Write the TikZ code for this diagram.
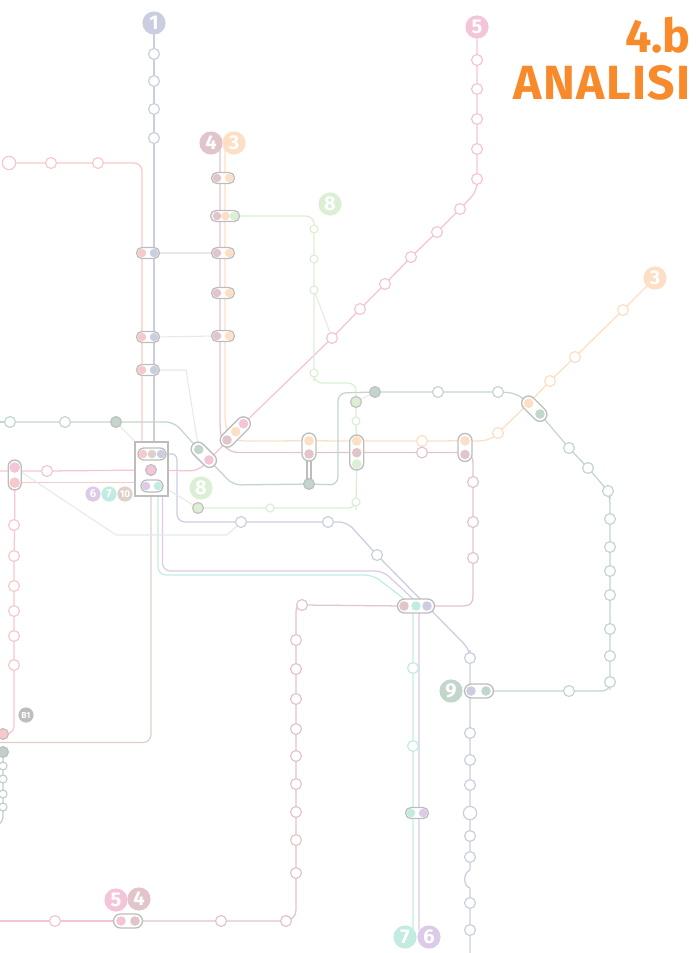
\documentclass[tikz,border=0pt]{standalone}
\usepackage{fontspec}
\setmainfont{Fira Sans}
\usetikzlibrary{shapes.misc}
\pgfdeclarelayer{lines}
\pgfsetlayers{lines,main}
\definecolor{lone}{HTML}{CBCEE0}
\definecolor{lred}{HTML}{F8C9CC}
\definecolor{lthree}{HTML}{FCDFC4}
\definecolor{lfour}{HTML}{E2C5CA}
\definecolor{lfive}{HTML}{F4C5D8}
\definecolor{lsix}{HTML}{DCCBE6}
\definecolor{lseven}{HTML}{C2ECE2}
\definecolor{leight}{HTML}{DCEFD4}
\definecolor{lnine}{HTML}{C3D6CC}
\definecolor{lten}{HTML}{DDD1C9}
\definecolor{ringgray}{HTML}{BDBDBD}
\definecolor{linkgray}{HTML}{E8E8E8}
\definecolor{titleorange}{HTML}{F98A2C}
\tikzset{
  stn/.style={circle,draw=#1,fill=white,line width=.9pt,minimum size=8.2pt,inner sep=0},
  smallstn/.style={stn=#1,minimum size=6pt},
  bigstn/.style={stn=#1,minimum size=10pt},
  dot/.style={circle,fill=#1,minimum size=7.2pt,inner sep=0},
  ringdot/.style={circle,fill=#1,draw=ringgray,line width=.8pt,minimum size=8.2pt,inner sep=0},
  pill/.style n args={2}{rounded rectangle,draw=ringgray,fill=white,line width=1pt,minimum width=#1*0.75pt,minimum height=#2*0.75pt,inner sep=0},
  badge/.style={circle,fill=#1,text=white,font=\bfseries\fontsize{15}{15}\selectfont,minimum size=17.4pt,inner sep=0},
  smallbadge/.style={badge=#1,font=\bfseries\fontsize{8.5}{8.5}\selectfont,minimum size=11.4pt},
  track/.style={draw=#1,line width=.95pt,rounded corners=6pt},
  link/.style={draw=linkgray,line width=.8pt},
}
\begin{document}
\begin{tikzpicture}[x=0.75pt,y=0.75pt,yscale=-1,xscale=1]
  \useasboundingbox (0,0) rectangle (696,953);

  % title
  \node[anchor=base east,text=titleorange,font=\bfseries\fontsize{35}{35}\selectfont,inner sep=0] (titleA) at (691,52) {4.b};
  \node[anchor=base east,text=titleorange,font=\bfseries\fontsize{36}{36}\selectfont\addfontfeatures{LetterSpace=3},inner sep=0] (titleB) at (691,99) {ANALISI};

  % badges
  \node[badge=lone] (badgeOne) at (154,23) {1};
  \node[badge=lfive] (badgeFive) at (477,27) {5};
  \node[badge=lfour] (badgeFour) at (211,143) {4};
  \node[badge=lthree] (badgeThree) at (234,143) {3};
  \node[badge=leight] (badgeEight) at (330,204) {8};
  \node[badge=lthree] (badgeThreeB) at (655,278) {3};
  \node[badge=leight] (badgeEightB) at (201,488) {8};
  \node[badge=lnine] (badgeNine) at (451,691) {9};
  \node[badge=lfive] (badgeFiveB) at (116,900) {5};
  \node[badge=lfour] (badgeFourB) at (139,899) {4};
  \node[badge=lseven] (badgeSeven) at (405,937) {7};
  \node[badge=lsix] (badgeSix) at (429,937) {6};
  \node[smallbadge=lsix] (smallSix) at (93,494) {6};
  \node[smallbadge=lseven] (smallSeven) at (109,494) {7};
  \node[smallbadge=lten,font=\bfseries\fontsize{7.5}{7.5}\selectfont] (smallTen) at (125,494) {10};
  \node[smallbadge=ringgray,font=\bfseries\fontsize{6.5}{6.5}\selectfont] (smallBone) at (26,715) {B1};

  % plain stations
  \foreach \n/\y in {a/54,b/81,c/109,d/138}
    \node[stn=lone] (one\n) at (154,\y) {};
  \node[bigstn=lred] (redA) at (9,163) {};
  \foreach \n/\x in {B/51,C/98}
    \node[stn=lred] (red\n) at (\x,163) {};
  \foreach \n/\y in {a/525,b/556,c/586,d/611,e/636,f/665}
    \node[stn=lred] (redv\n) at (14,\y) {};
  \foreach \n/\x/\y in {a/477/60,b/477/89,c/477/119,d/477/149,e/477/179,f/460/209,g/437/232,h/411/257,i/385/284,j/360/309,k/332/338,l/47/471}
    \node[stn=lfive] (five\n) at (\x,\y) {};
  \node[stn=lfive] (fivem) at (55,921) {};
  \foreach \n/\x/\y in {a/550/381,b/575/357,c/623/310,d/498/433,e/422/441}
    \node[stn=lthree] (three\n) at (\x,\y) {};
  \foreach \n/\x/\y in {a/422/452.5,b/473/482,c/473/522,d/473/558,e/302/605,f/296/640,g/296/669,h/296/699,i/296/729,j/296/756,k/296/784,l/296/812,m/296/840,n/296/873,o/286/921,p/221/921}
    \node[stn=lfour] (four\n) at (\x,\y) {};
  \foreach \n/\x/\y in {a/314/229,b/314/259,c/314/290,d/314/373,e/356/421,f/356/502,g/270/508}
    \node[smallstn=leight] (eight\n) at (\x,\y) {};
  \foreach \n/\x/\y in {a/10/422,b/65/422,c/438/392,f/569/691,g/569/448,h/588/468,i/608/491,j/610/519,k/610/547,l/610/571,m/610/595,n/610/629,o/610/656,p/610/682,q/498/392}
    \node[stn=lnine] (nine\n) at (\x,\y) {};
  \foreach \n/\y in {a/658,b/733,c/760,d/785,f/836,g/857,h/903,i/930}
    \node[stn=lone] (lav\n) at (470,\y) {};
  \node[bigstn=lone] (lave) at (470,813) {};
  \foreach \n/\x/\y in {j/241/522,k/328/522,l/377/555}
    \node[stn=lone] (lav\n) at (\x,\y) {};
  \foreach \n/\y in {a/668,b/746}
    \node[stn=lseven] (seven\n) at (413,\y) {};
  \foreach \n/\y in {a/766,b/779,c/794,d/807}
    \node[smallstn=lnine!70!lightgray] (bone\n) at (3,\y) {};

  % interchanges
  \node[draw=ringgray,fill=white,line width=1.5pt,minimum width=25pt,minimum height=41pt,inner sep=0] (hub) at (151.7,469) {};
  \node[pill={28}{12}] (hubTop) at (152,454) {};
  \node[pill={22}{12}] (hubLow) at (152,486) {};
  \foreach \n/\x/\y/\c in {a/143/454/lred,b/152/454/lten,c/161/454/lone,d/146/486/lsix,e/158/486/lseven}
    \node[dot=\c,minimum size=6.4pt] (hub\n) at (\x,\y) {};
  \node[ringdot=lfive] (hubMid) at (151,470) {};

  \foreach \n/\y in {a/253,b/337,c/370} {
    \node[pill={23}{11}] (rb\n) at (148,\y) {};
    \node[dot=lred,minimum size=6.4pt] (rb\n R) at (142,\y) {};
    \node[dot=lone,minimum size=6.4pt] (rb\n L) at (154,\y) {};
  }
  \foreach \n/\y in {a/178,c/253,d/293,e/336} {
    \node[pill={23}{11}] (ft\n) at (223,\y) {};
    \node[dot=lfour,minimum size=6.4pt] (ft\n F) at (217,\y) {};
    \node[dot=lthree,minimum size=6.4pt] (ft\n T) at (229,\y) {};
  }
  \node[pill={29}{11}] (ftb) at (225,216) {};
  \node[dot=lfour,minimum size=6.4pt] (ftbF) at (217,216) {};
  \node[dot=lthree,minimum size=6.4pt] (ftbT) at (225.5,216) {};
  \node[dot=leight,minimum size=6.4pt] (ftbE) at (234,216) {};

  \node[pill={30}{13},rotate=90] (lp) at (14.7,475) {};
  \node[dot=lfive,minimum size=8pt] (lpP) at (14.7,467.5) {};
  \node[dot=lred,minimum size=8pt] (lpR) at (14.7,482.7) {};

  \node[pill={37}{14},rotate=45] (dpa) at (235.3,432) {};
  \node[dot=lfour] (dpaF) at (227,440) {};
  \node[dot=lthree] (dpaT) at (235.7,431.7) {};
  \node[dot=lfive] (dpaP) at (243.5,423.7) {};
  \node[pill={30}{14},rotate=-45] (dpb) at (203.8,454.8) {};
  \node[dot=lnine] (dpbN) at (198.7,449.5) {};
  \node[dot=lfive] (dpbP) at (209,460) {};
  \node[pill={30}{14},rotate=-45] (dpc) at (534.3,408.7) {};
  \node[dot=lthree] (dpcT) at (528.7,403.3) {};
  \node[dot=lnine] (dpcN) at (540,414) {};

  \node[pill={28}{14},rotate=90] (vpa) at (309,447) {};
  \node[dot=lthree] (vpaT) at (309,440.8) {};
  \node[dot=lfour] (vpaF) at (309,454) {};
  \node[pill={35}{14},rotate=90] (vpb) at (356.7,452.5) {};
  \node[dot=lthree] (vpbT) at (356.7,441) {};
  \node[dot=lfour] (vpbF) at (356.7,452.7) {};
  \node[dot=leight] (vpbE) at (356.7,464) {};
  \node[pill={28}{14},rotate=90] (vpc) at (465,447.5) {};
  \node[dot=lthree] (vpcT) at (465,440.8) {};
  \node[dot=lfour] (vpcF) at (465,454.5) {};

  \node[pill={37}{14}] (tri) at (416,606) {};
  \node[dot=lfour] (triF) at (404,606) {};
  \node[dot=lseven] (triS) at (416,606) {};
  \node[dot=lone] (triO) at (427,606) {};
  \node[pill={29}{14}] (nineP) at (479,691) {};
  \node[dot=lone] (nineO) at (471,691) {};
  \node[dot=lnine] (nineN) at (486,691) {};
  \node[pill={23}{11}] (sevenP) at (417,813) {};
  \node[dot=lseven,minimum size=6.4pt] (sevenS) at (411,813) {};
  \node[dot=lsix,minimum size=6.4pt] (sevenL) at (423,813) {};
  \node[pill={29}{14}] (botP) at (128,921) {};
  \node[dot=lfive] (botF) at (121,921) {};
  \node[dot=lfour] (botO) at (135,921) {};

  % filled stations
  \node[ringdot=lnine] (ringA) at (116,422) {};
  \node[ringdot=lnine] (ringB) at (309,484) {};
  \node[ringdot=lnine] (ringC) at (375,392) {};
  \node[ringdot=leight] (ringD) at (356,402) {};
  \node[ringdot=leight] (ringE) at (198,508) {};
  \node[ringdot=lred] (ringF) at (3,734) {};
  \node[ringdot=lnine!70!lightgray] (ringG) at (3,752) {};

  \begin{pgfonlayer}{lines}
    % line 1
    \path[track=lone] (badgeOne.center) -- (onea.center) -- (oneb.center) -- (onec.center) -- (oned.center) -- (rbaL.center) -- (rbbL.center) -- (rbcL.center) -- (rbcL.center |- hub.north);
    \path[track=lone] (hub.east |- hubTop) -- (177,452) -- (177,522) -- (lavj.center) -- (lavk.center) -- (347,522) -- (lavl.center) -- (triO.center) -- (470,650) -- (lava.center) -- (nineO.center -| lava) -- (lavb.center) -- (lavc.center) -- (lavd.center) -- (lave.center) -- (lavf.center) -- (lavg.center) -- (470,870);
    \draw[draw=lone,line width=.95pt] (470,870) .. controls (463,873) and (463,886) .. (470,888) -- (lavh.center) -- (lavi.center) -- (470,953);
    % red line
    \path[track=lred] (redA.center) -- (redB.center) -- (redC.center) -| (rbaR.center |- hub.north);
    \path[track=lred] (lpR.center) -- (lpR.center -| hub.west);
    \path[track=lred] (lpR.center) -- (redva.center -| lpR) -- (redvb.center) -- (redvc.center) -- (redvd.center) -- (redve.center) -- (redvf.center) -- (14,734) -- (ringF.center);
    % line 5
    \path[track=lfive] (badgeFive.center) -- (fivea.center) -- (fiveb.center) -- (fivec.center) -- (fived.center) -- (fivee.center) -- (477,191) -- (fivef.center) -- (fiveg.center) -- (fiveh.center) -- (fivei.center) -- (fivej.center) -- (fivek.center) -- (dpaP.center) -- (dpbP.center) -- (198,471) -- (hubMid.center) -- (fivel.center) -- (0,471);
    \path[track=lfive] (fivem.center) -- (0,921);
    \path[track=lfive] (fivem.center) -- (botF.center);
    % line 3
    \draw[draw=lthree,line width=.95pt] (225,143) -- (225,413) .. controls (225,434) and (230,441) .. (246,441) -- (vpaT.center) -- (vpbT.center) -- (threee.center) -- (vpcT.center) -- (475,441) .. controls (485,441) and (491,440) .. (threed.center) -- (dpcT.center) -- (threea.center) -- (threeb.center) -- (threec.center) -- (badgeThreeB.center);
    % line 4
    \draw[draw=lfour,line width=.95pt] (220,143) -- (220,420) .. controls (220,444) and (225,452.5) .. (240,452.5) -- (foura.center) -- (465,452.5) .. controls (470,452.5) and (473,456) .. (473,464) -- (fourb.center) -- (fourc.center) -- (fourd.center) -- (473,596) .. controls (473,603) and (470,606) .. (463,606) -- (triF.center) -- (foure.center) -- (302,605) .. controls (298,605) and (296,607) .. (296,612) -- (fourf.center) -- (fourg.center) -- (fourh.center) -- (fouri.center) -- (fourj.center) -- (fourk.center) -- (fourl.center) -- (fourm.center) -- (fourn.center) -- (296,910) .. controls (296,916) and (292,920) .. (fouro.center) -- (fourp.center) -- (botO.center);
    % line 8
    \path[track=leight] (ftbE.center) -- (314,216) -- (eighta.center) -- (eightb.center) -- (eightc.center) -- (eightd.center) -- (314,383) -- (356,383) -- (ringD.center) -- (eighte.center) -- (vpbE.center) -- (eightf.center) -- (356,508) -- (eightg.center) -- (ringE.center);
    % line 9
    \path[track=lnine] (ninea.center) -- (0,422);
    \path[track=lnine] (ninea.center) -- (nineb.center) -- (ringA.center) -- (174,422) -- (dpbN.center);
    \path[track=lnine] (dpbP.center) -- (233,485) -- (ringB.center) -- (338,485) -- (338,393) -- (ringC.center) -- (ninec.center) -- (nineq.center) -- (516,393) -- (dpcT.center) -- (dpcN.center) -- (nineg.center) -- (nineh.center) -- (ninei.center) -- (610,497) -- (ninej.center) -- (ninek.center) -- (ninel.center) -- (ninem.center) -- (ninen.center) -- (nineo.center) -- (ninep.center) -- (610,691) -- (ninef.center) -- (nineN.center);
    % B1
    \path[track=lnine!70!lightgray] (ringG.center) -- (bonea.center) -- (boneb.center) -- (bonec.center) -- (boned.center) -- (3,825) -- (0,825);
    % line 10
    \path[track=lten] (151,497) -- (151,742.5) -- (0,742.5);
    % line 7
    \path[track=lseven] (158,497) -- (158,575) -- (373,575) -- (403,598) -- (413,606) -- (sevena.center) -- (sevenb.center) -- (413,930);
    % line 6
    \path[track=lsix] (162.5,497) -- (162.5,571) -- (383,571) -- (412,598) -- (419,606) -- (419,930);
    % gray links
    \draw[link] (rbaL.center) -- (ftcF.center);
    \draw[link] (rbbL.center) -- (fteF.center);
    \draw[link] (rbcL.center) -- (186,370) -- (dpbN.center);
    \draw[link] (ringA.center) -- (hub.north west);
    \draw[link] (hub.south east) ++(0,-7) -- (ringE.center);
    \draw[link] (eightc.center) -- (fivek.center);
    \draw[link] (ringC.center) -- (ringD.center);
    \draw[link] (lp.center) ++(5,-4) -- (116,535) -- (227,535) -- (lavj.center);
    \draw[draw=ringgray,line width=1.6pt,double=white,double distance=1.6pt] (vpa.center) -- (ringB.center);
  \end{pgfonlayer}
\end{tikzpicture}
\end{document}
